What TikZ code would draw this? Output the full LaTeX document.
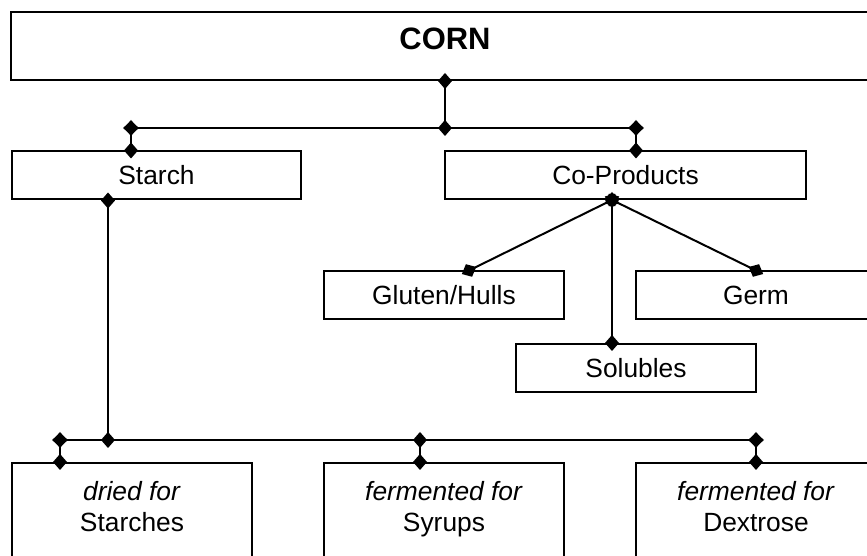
\documentclass[tikz,border=0pt]{standalone}
\usepackage{fontspec}
\setmainfont{Liberation Sans}
\usetikzlibrary{arrows.meta}
\usetikzlibrary{positioning}
\tikzset{box/.style = {draw, line width = 0.04cm, inner sep = 0, minimum height = 0.96cm, font = \fontsize{15}{17.6}\selectfont}}
\tikzset{tall/.style = {box, minimum width = 4.8cm, minimum height = 2cm, align = center, text depth = 0.28cm}}
\tikzset{link/.style = {line width = 0.04cm, {Diamond[length=0.32cm, width=0.28cm]}-{Diamond[length=0.32cm, width=0.28cm]}, shorten <= -0.16cm, shorten >= -0.16cm}}

\begin{document}
\begin{tikzpicture}
      \useasboundingbox (0, 0) rectangle (17.34, 11.12);

      \node [box, minimum width = 17.36cm, minimum height = 1.36cm, text depth = 0.28cm, font = \fontsize{17.6}{20}\selectfont\bfseries] (corn) at (8.9, 10.2) {CORN};

      \node [box, minimum width = 5.78cm] (starch) at (3.13, 7.61) {Starch};
      \node [box, minimum width = 7.22cm] (coprod) at (12.51, 7.61) {Co-Products};

      \node [box, minimum width = 4.8cm] (gluten) at (8.88, 5.21) {Gluten/Hulls};
      \node [box, minimum width = 4.8cm] (germ) at (15.12, 5.21) {Germ};
      \node [box, minimum width = 4.8cm] (solubles) at (12.72, 3.76) {Solubles};

      \node [tall] (dried) at (2.64, 0.86) {\textit{dried for}\\Starches};
      \node [tall] (syrups) at (8.88, 0.86) {\textit{fermented for}\\Syrups};
      \node [tall] (dextrose) at (15.12, 0.86) {\textit{fermented for}\\Dextrose};

      \coordinate (top) at (8.9, 8.56);
      \coordinate (topleft) at (2.62, 8.56);
      \coordinate (topright) at (12.72, 8.56);
      \draw [link] (corn.south) -- (top);
      \draw [link] (topleft) -- (topright);
      \draw [link] (topleft) -- (topleft |- starch.north);
      \draw [link] (topright) -- (topright |- coprod.north);

      \coordinate (hub) at (12.24, 7.12);
      \draw [link] (hub) -- ([xshift=0.5cm]gluten.north);
      \draw [link] (hub) -- (hub |- solubles.north);
      \draw [link] (hub) -- (germ.north);

      \coordinate (down) at (2.16, 2.32);
      \coordinate (downleft) at (1.2, 2.32);
      \coordinate (downmid) at (8.4, 2.32);
      \coordinate (downright) at (15.12, 2.32);
      \draw [link] (down |- starch.south) -- (down);
      \draw [link] (downleft) -- (downright);
      \draw [link] (downleft) -- (downleft |- dried.north);
      \draw [link] (downmid) -- (downmid |- syrups.north);
      \draw [link] (downright) -- (dextrose.north);
    \end{tikzpicture}
\end{document}
